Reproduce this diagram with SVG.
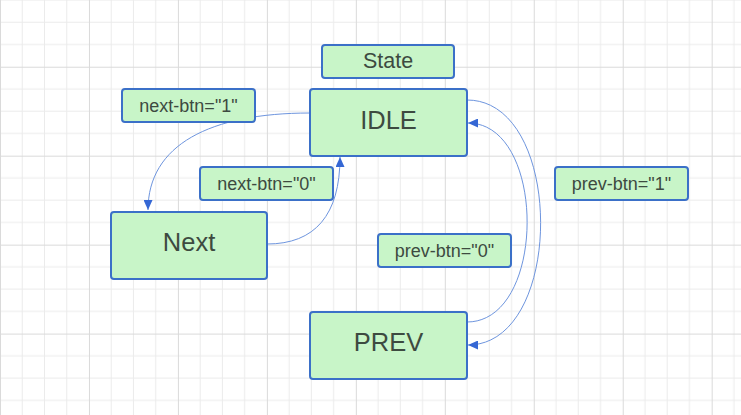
<svg xmlns="http://www.w3.org/2000/svg" width="741" height="415" viewBox="0 0 741 415">
  <style>
    .node rect { fill: #c8f5c8; stroke: #3b70c8; stroke-width: 2; }
    .node text { font-family: "Liberation Sans", Arial, sans-serif; fill: #3d4a40; text-anchor: middle; }
    .big { font-size: 25.5px; }
    .mid { font-size: 21.5px; }
    .small { font-size: 18px; }
    .conn { fill: none; stroke: #6e95de; stroke-width: 1; marker-end: url(#arrow); }
  </style>
  <defs>
    <pattern id="grid" patternUnits="userSpaceOnUse" x="0" y="66.72" width="88.96" height="88.96">
      <path d="M22.24,0V88.96M44.48,0V88.96M66.72,0V88.96M0,22.24H88.96M0,44.48H88.96M0,66.72H88.96" stroke="#ebebeb" stroke-width="1" fill="none"/>
      <path d="M0.5,0V88.96M0,0.5H88.96" stroke="#dadada" stroke-width="1" fill="none"/>
    </pattern>
    <marker id="arrow" markerUnits="userSpaceOnUse" markerWidth="10" markerHeight="9" refX="10" refY="4.5" orient="auto">
      <path d="M0,0 L10,4.5 L0,9 Z" fill="#3567d4"/>
    </marker>
  </defs>
  <rect width="741" height="415" fill="#ffffff"/>
  <rect width="741" height="415" fill="url(#grid)"/>

  <g id="connectors">
    <path class="conn" d="M310,113 C210,113 148,145 148,210"/>
    <path class="conn" d="M267,244 C315,244 340,215 340,157"/>
    <path class="conn" d="M467,100 C565,100 565,345 468,345"/>
    <path class="conn" d="M467,322 C547,322 547,123 468,123"/>
  </g>

  <g id="state" class="node">
    <rect x="322" y="45" width="132" height="33" rx="3"/>
    <text class="mid" x="388" y="67.5">State</text>
  </g>
  <g id="idle" class="node">
    <rect x="310" y="89" width="157" height="67" rx="3"/>
    <text class="big" x="388.5" y="129">IDLE</text>
  </g>
  <g id="next" class="node">
    <rect x="111" y="212" width="156" height="67" rx="3"/>
    <text class="big" x="189" y="251">Next</text>
  </g>
  <g id="prev" class="node">
    <rect x="310" y="312" width="157" height="67" rx="3"/>
    <text class="big" x="388.5" y="351">PREV</text>
  </g>
  <g id="label-next1" class="node">
    <rect x="122" y="89" width="133" height="33" rx="3"/>
    <text class="small" x="188.5" y="111.5">next-btn="1"</text>
  </g>
  <g id="label-next0" class="node">
    <rect x="200" y="167" width="133" height="33" rx="3"/>
    <text class="small" x="266.5" y="189.5">next-btn="0"</text>
  </g>
  <g id="label-prev0" class="node">
    <rect x="378" y="234" width="133" height="33" rx="3"/>
    <text class="small" x="444.5" y="256.5">prev-btn="0"</text>
  </g>
  <g id="label-prev1" class="node">
    <rect x="555" y="167" width="133" height="33" rx="3"/>
    <text class="small" x="621.5" y="189.5">prev-btn="1"</text>
  </g>
</svg>
